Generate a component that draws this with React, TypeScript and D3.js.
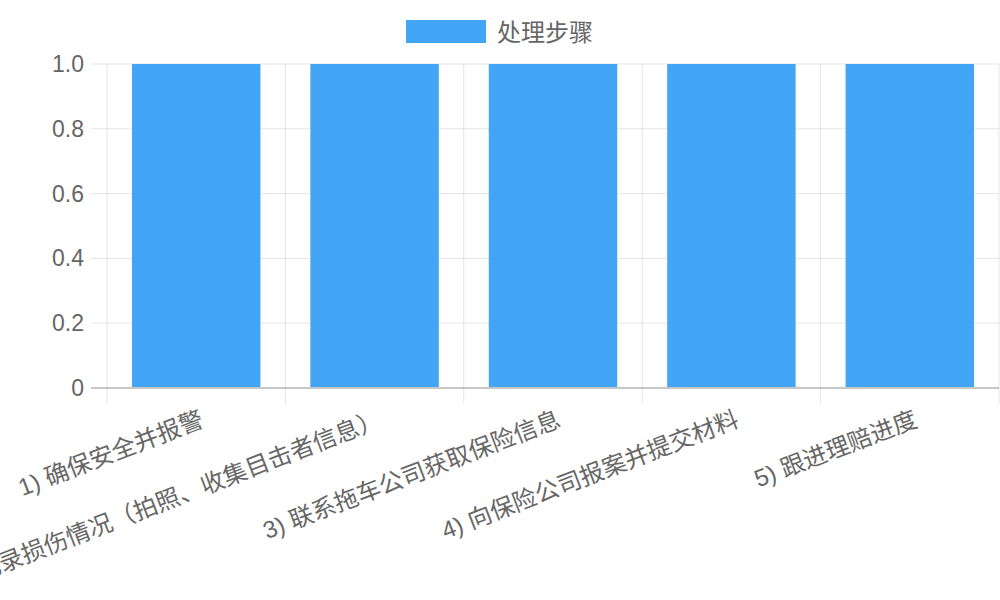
import React from "react";
import * as d3 from "d3";

const categories = [
  "1) 确保安全并报警",
  "2) 记录损伤情况（拍照、收集目击者信息）",
  "3) 联系拖车公司获取保险信息",
  "4) 向保险公司报案并提交材料",
  "5) 跟进理赔进度",
];
const values = [1, 1, 1, 1, 1];
const yTicks = [0, 0.2, 0.4, 0.6, 0.8, 1.0];
const seriesName = "处理步骤";

const W = 1000;
const H = 600;
const left = 107;
const right = 999;
const top = 64;
const bottom = 388;
const font = "'Liberation Sans', Arial, 'Noto Sans CJK SC', sans-serif";

export default function App() {
  const x = d3.scaleBand<string>().domain(categories).range([left, right]).paddingInner(0).paddingOuter(0);
  const y = d3.scaleLinear().domain([0, 1]).range([bottom, top]);
  const bw = x.bandwidth() * 0.72;
  const fmt = (v: number) => (v === 0 ? "0" : v.toFixed(1));
  const gridX = [...categories.map((c) => x(c)!), right];
  return (
    <svg width={W} height={H} style={{ position: "absolute", left: 0, top: 0, background: "#fff" }} fontFamily={font}>
      {/* legend */}
      <rect x={406} y={20} width={80} height={23} fill="#42A5F5" />
      <text x={497} y={32} fontSize={24} fill="#666" dominantBaseline="central">{seriesName}</text>
      {/* horizontal grid */}
      {yTicks.map((t) => (
        <line key={"h" + t} x1={left - 16} x2={right} y1={y(t)} y2={y(t)} stroke={t === 0 ? "rgba(0,0,0,0.22)" : "rgba(0,0,0,0.1)"} strokeWidth={t === 0 ? 2 : 1} />
      ))}
      {/* vertical grid */}
      {gridX.map((gx, i) => (
        <line key={"v" + i} x1={gx} x2={gx} y1={top} y2={bottom + 16} stroke="rgba(0,0,0,0.1)" strokeWidth={1} />
      ))}
      {/* bars */}
      {categories.map((c, i) => (
        <rect key={c} x={x(c)! + (x.bandwidth() - bw) / 2} y={y(values[i])} width={bw} height={y(0) - y(values[i]) - 1} fill="#42A5F5" />
      ))}
      {/* y tick labels */}
      {yTicks.map((t) => (
        <text key={"yl" + t} x={84} y={y(t)} fontSize={23} fill="#666" textAnchor="end" dominantBaseline="central">{fmt(t)}</text>
      ))}
      {/* x tick labels */}
      {categories.map((c) => {
        const cx = x(c)! + x.bandwidth() / 2 + 6;
        const cy = 418;
        return (
          <text key={"xl" + c} x={cx} y={cy} fontSize={24} fill="#666" textAnchor="end" dominantBaseline="central" transform={`rotate(-21, ${cx}, ${cy})`}>{c}</text>
        );
      })}
    </svg>
  );
}
